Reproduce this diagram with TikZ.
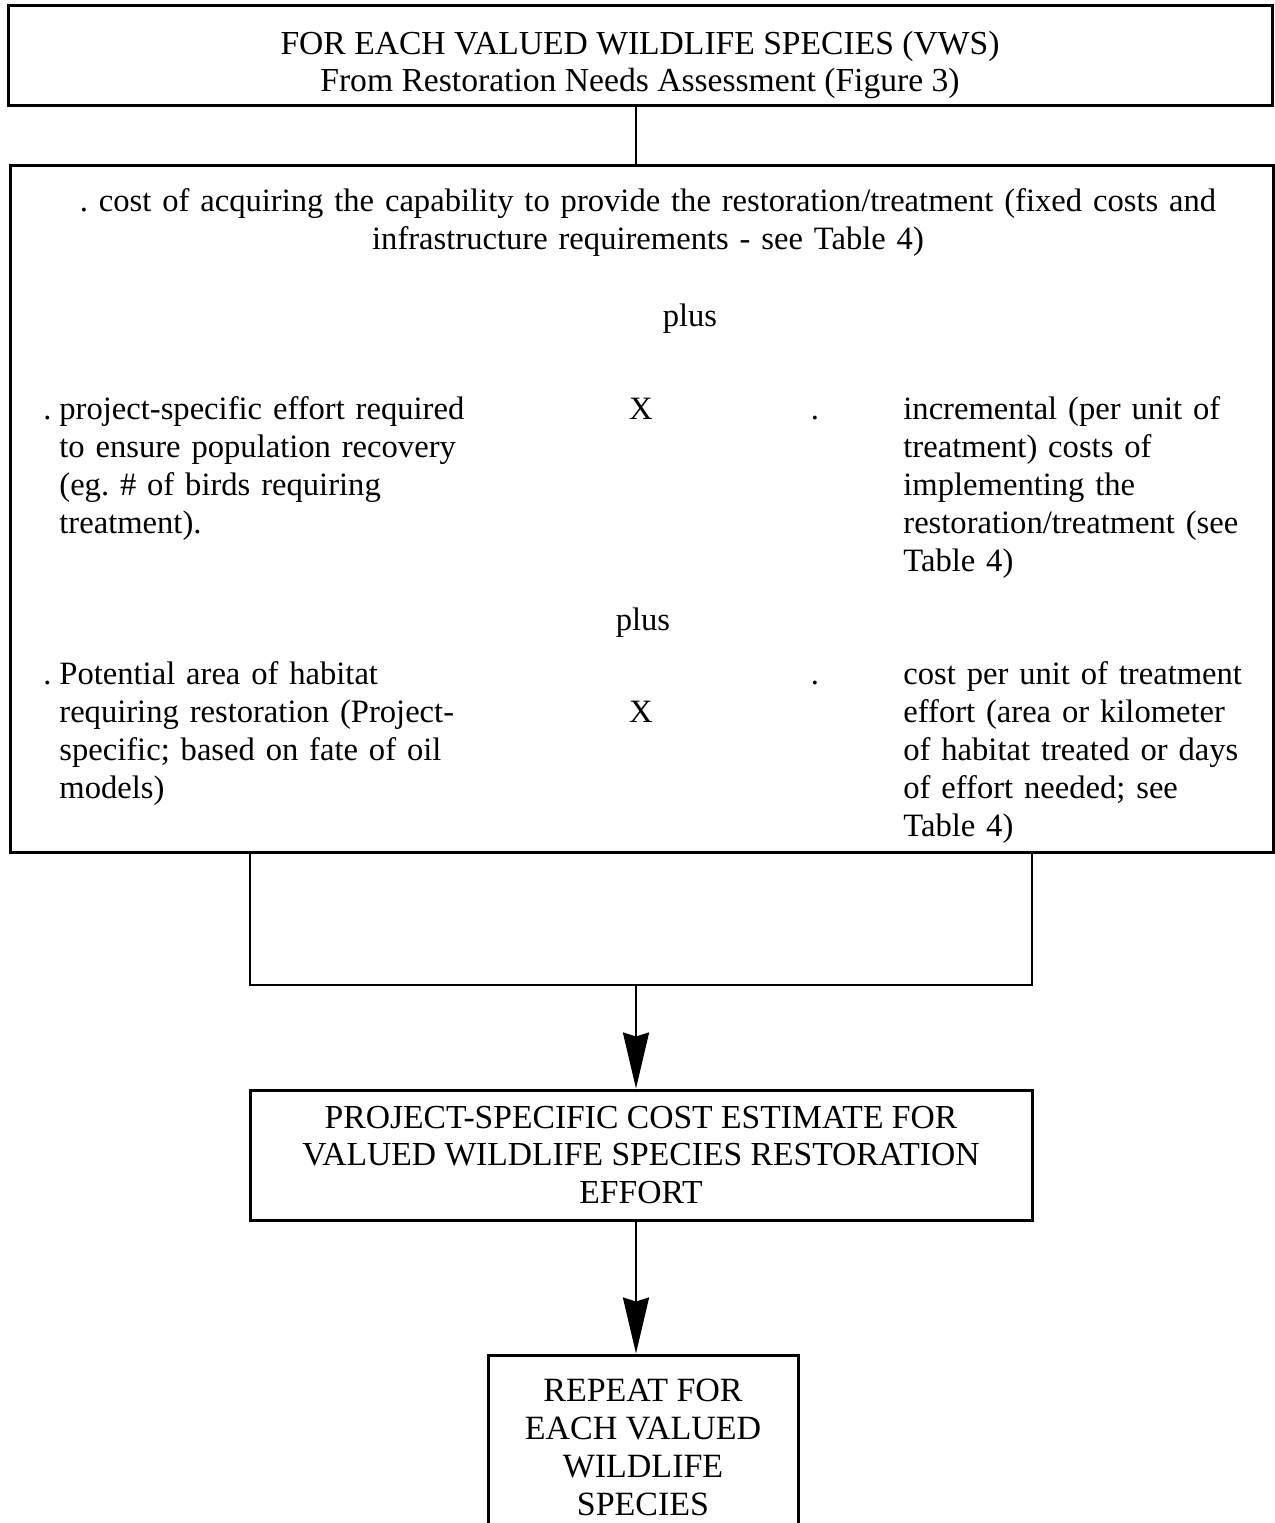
\documentclass[tikz,border=0pt]{standalone}
\usepackage{fontspec}
\setmainfont{Liberation Serif}
\usetikzlibrary{arrows.meta}
\newcommand{\vwsbox}{\fontsize{16.8}{18.6}\selectfont}
\newcommand{\vwsbody}{\fontsize{16.3}{19}\selectfont}
\newcommand{\vwswide}{\fontsize{17}{19}\selectfont}
\frenchspacing
\begin{document}
\begin{tikzpicture}[
            x=0.5pt, y=-0.5pt,
            >={Stealth[length=28pt,width=13pt,inset=2pt]},
            box/.style={draw, line width=1.5pt, inner sep=0pt, align=center, font=\vwsbox},
            txt/.style={inner sep=0pt, anchor=base west, align=left, text width=#1, font=\vwsbody},
            txt/.default=215pt,
            word/.style={inner sep=0pt, anchor=base, font=\vwsbody},
            link/.style={line width=1.2pt}
            ]
            \useasboundingbox (0,0) rectangle (1275,1523);
            \clip (0,0) rectangle (1275,1523);

            \node [box, minimum width=632pt, minimum height=50pt] (source) at (640,55) {};
            \node [box, draw=none] (sourcetext) at ([yshift=-5pt]source.center) {FOR EACH VALUED WILDLIFE SPECIES (VWS)\\From Restoration Needs Assessment (Figure 3)};
            \node [box, minimum width=631.5pt, minimum height=343.5pt] (costs) at (641.5,508.5) {};

            % fixed costs
            \node [txt=620pt, align=center, anchor=base] (fixed) at (648,211) {. cost of acquiring the capability to provide the restoration/treatment (fixed costs and\\infrastructure requirements - see Table 4)};
            \node [word] (plusa) at (690,326) {plus};

            % effort x unit cost
            \node [word, anchor=base east] (dota) at (52,419) {.};
            \node [txt] (effort) at (59,419) {project-specific effort required\\to ensure population recovery\\(eg. \# of birds requiring\\treatment).};
            \node [word] (timesa) at (641,419) {X};
            \node [word] (dotb) at (815,419) {.};
            \node [txt=185pt] (unitcost) at (903,419) {incremental (per unit of\\treatment) costs of\\implementing the\\restoration/treatment (see\\Table 4)};
            \node [word] (plusb) at (643,630) {plus};

            % habitat x treatment cost
            \node [word, anchor=base east] (dotc) at (52,684) {.};
            \node [txt] (habitat) at (59,684) {Potential area of habitat\\requiring restoration (Project-\\specific; based on fate of oil\\models)};
            \node [word] (timesb) at (641,722) {X};
            \node [word] (dotd) at (815,684) {.};
            \node [txt=185pt] (treatcost) at (903,684) {cost per unit of treatment\\effort (area or kilometer\\of habitat treated or days\\of effort needed; see\\Table 4)};

            \node [box, minimum width=391pt, minimum height=65pt] (estimate) at (641,1155) {PROJECT-SPECIFIC COST ESTIMATE FOR\\VALUED WILDLIFE SPECIES RESTORATION\\EFFORT};
            \node [box, font=\vwswide, minimum width=155pt, minimum height=92pt] (repeat) at (643,1447) {REPEAT FOR\\EACH VALUED\\WILDLIFE\\SPECIES};

            \coordinate (joinl) at (250,985);
            \coordinate (joinr) at (1032,985);
            \coordinate (joinm) at (636,985);

            \draw[link] (source.south -| joinm) -- (costs.north -| joinm);
            \draw[link] (costs.south -| joinl) -- (joinl) -- (joinr) -- (costs.south -| joinr);
            \draw[link,->] (joinm) -- (estimate.north -| joinm);
            \draw[link,->] (estimate.south -| joinm) -- (repeat.north -| joinm);
        \end{tikzpicture}
\end{document}
